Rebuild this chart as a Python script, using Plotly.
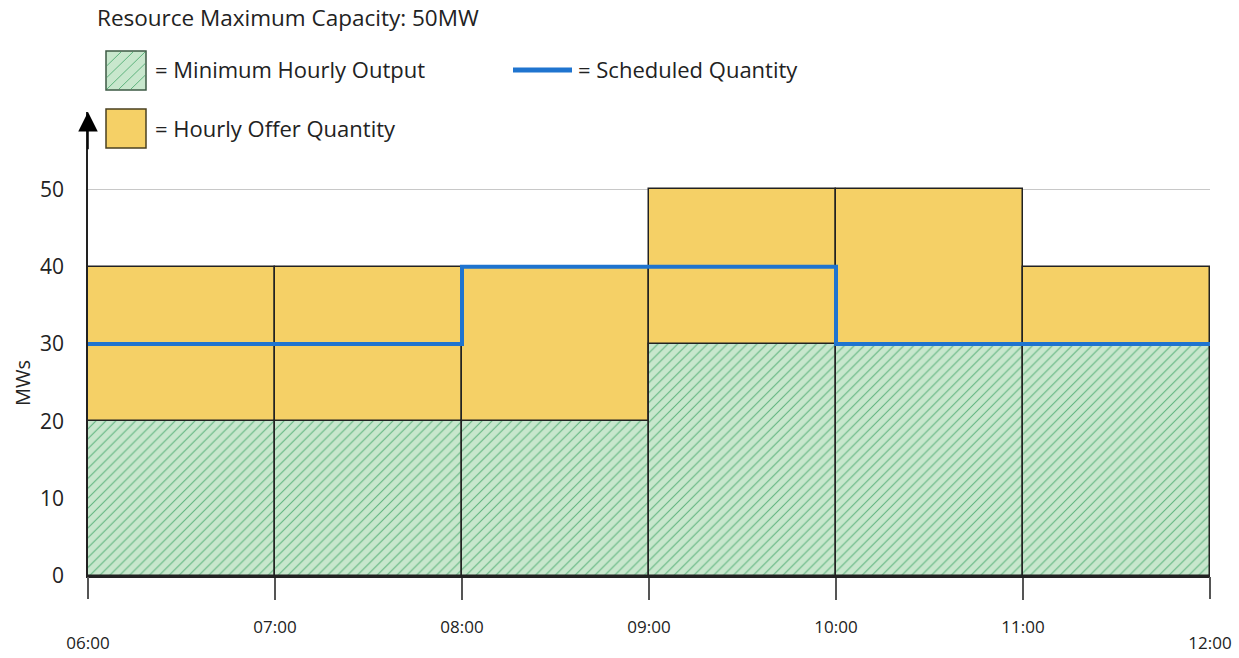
import plotly.graph_objects as go

# ---- data ----
hours = [6, 7, 8, 9, 10, 11]            # start hour of each interval
hour_labels = ["06:00", "07:00", "08:00", "09:00", "10:00", "11:00", "12:00"]
offer_qty = [40, 40, 40, 50, 50, 40]     # Hourly Offer Quantity (MW)
min_output = [20, 20, 20, 30, 30, 30]    # Minimum Hourly Output (MW)
scheduled = [30, 30, 40, 40, 30, 30]     # Scheduled Quantity (MW)
y_ticks = [0, 10, 20, 30, 40, 50]

W, H = 1239, 658
L, R, T, B = 88, 29, 112, 82
PW, PH = W - L - R, H - T - B

def px(x):
    return (x - L) / PW

def py(y):
    return (H - B - y) / PH

FONT = "Open Sans"
YELLOW = "#f5d066"
GREEN_BG = "#c8e7cd"
GREEN_FG = "#5fb47e"
BLUE = "#1f74cf"

centers = [h + 0.5 for h in hours]

fig = go.Figure()
fig.add_trace(go.Bar(
    x=centers, y=offer_qty, width=1, name="Hourly Offer Quantity",
    marker=dict(color=YELLOW, line=dict(color="#222222", width=1.5)),
    showlegend=False,
))
fig.add_trace(go.Bar(
    x=centers, y=min_output, width=1, name="Minimum Hourly Output",
    marker=dict(color=GREEN_BG, line=dict(color="#222222", width=1.5),
                pattern=dict(shape="/", bgcolor=GREEN_BG, fgcolor=GREEN_FG,
                             size=7, solidity=0.15, fillmode="replace")),
    showlegend=False,
))
step_x = hours + [hours[-1] + 1]
step_y = scheduled + [scheduled[-1]]
fig.add_trace(go.Scatter(
    x=step_x, y=step_y, mode="lines", line=dict(shape="hv", color=BLUE, width=4),
    name="Scheduled Quantity", showlegend=False,
))

tick_vals = hours + [hours[-1] + 1]
inner_vals = tick_vals[1:-1]
inner_text = hour_labels[1:-1]
outer_vals = [tick_vals[0], tick_vals[-1]]
outer_text = [hour_labels[0], hour_labels[-1]]

# invisible helper trace so the second (staggered-label) x axis is drawn
fig.add_trace(go.Scatter(
    x=outer_vals, y=[0, 0], xaxis="x2", yaxis="y", mode="markers",
    marker=dict(opacity=0, size=1), hoverinfo="skip", showlegend=False,
))

fig.update_layout(
    width=W, height=H,
    margin=dict(l=L, r=R, t=T, b=B, autoexpand=False),
    paper_bgcolor="white", plot_bgcolor="white",
    barmode="overlay", bargap=0,
    font=dict(family=FONT, color="#222222"),
    showlegend=False,
    xaxis=dict(range=[6, 12], tickvals=inner_vals, ticktext=inner_text,
               showline=True, linecolor="#222222", linewidth=2,
               ticks="outside", ticklen=22, tickcolor="#555555", tickwidth=1.5,
               showgrid=False, zeroline=False, ticklabelstandoff=13,
               automargin=False, fixedrange=True,
               tickfont=dict(size=17, color="#222222")),
    xaxis2=dict(range=[6, 12], overlaying="x", anchor="y", side="bottom",
                tickvals=outer_vals, ticktext=outer_text,
                showline=False, ticks="outside", ticklen=22, tickcolor="#555555",
                tickwidth=1.5, showgrid=False, zeroline=False,
                ticklabelstandoff=30, automargin=False, fixedrange=True,
                tickfont=dict(size=17, color="#222222")),
    yaxis=dict(range=[0, 60], tickvals=y_ticks, showline=True,
               linecolor="#222222", linewidth=1.5, ticks="",
               showgrid=True, gridcolor="#c8c8c8", gridwidth=1,
               zeroline=False, ticklabelstandoff=18,
               automargin=False, fixedrange=True,
               tickfont=dict(size=21, color="#222222")),
)

# y-axis arrow
fig.add_annotation(x=6, y=60, xref="x", yref="y", ax=6, ay=55, axref="x", ayref="y",
                   showarrow=True, arrowhead=2, arrowsize=2.6, arrowwidth=1.5,
                   arrowcolor="black", text="")
# y-axis title
fig.add_annotation(x=px(22), y=py(383), xref="paper", yref="paper", text="MWs",
                   showarrow=False, textangle=-90, xanchor="center", yanchor="middle",
                   font=dict(size=20, family=FONT))

# header & custom legend
fig.add_annotation(x=px(95), y=py(18), xref="paper", yref="paper",
                   text="Resource Maximum Capacity: 50MW", showarrow=False,
                   xanchor="left", yanchor="middle", font=dict(size=22.5, family=FONT))

shapes = []
# green square
shapes.append(dict(type="rect", xref="paper", yref="paper",
                   x0=px(106), x1=px(146), y0=py(90), y1=py(51),
                   fillcolor=GREEN_BG, line=dict(color="#3c5a44", width=1.5)))
for off in (-24, -12, 0, 12, 24):
    xa0, ya0 = 106 + off, 90
    xa1, ya1 = 146 + off, 51
    x0c, y0c, x1c, y1c = xa0, ya0, xa1, ya1
    if x0c < 106:
        d = 106 - x0c; x0c = 106; y0c = ya0 - d * (39 / 40)
    if x1c > 146:
        d = x1c - 146; x1c = 146; y1c = ya1 + d * (39 / 40)
    shapes.append(dict(type="line", xref="paper", yref="paper",
                       x0=px(x0c + 1), y0=py(y0c - 1), x1=px(x1c - 1), y1=py(y1c + 1),
                       line=dict(color=GREEN_FG, width=1)))
shapes.append(dict(type="rect", xref="paper", yref="paper",
                   x0=px(106), x1=px(146), y0=py(148), y1=py(109),
                   fillcolor=YELLOW, line=dict(color="#4a4020", width=1.5)))
shapes.append(dict(type="line", xref="paper", yref="paper",
                   x0=px(513), x1=px(572), y0=py(70), y1=py(70),
                   line=dict(color=BLUE, width=5)))
fig.update_layout(shapes=shapes)

for text, x, y in [("= Minimum Hourly Output", 153, 69),
                   ("= Hourly Offer Quantity", 153, 128),
                   ("= Scheduled Quantity", 576, 69)]:
    fig.add_annotation(x=px(x), y=py(y), xref="paper", yref="paper", text=text,
                       showarrow=False, xanchor="left", yanchor="middle",
                       font=dict(size=22, family=FONT))

fig.write_html("out.html", config={"displayModeBar": False},
               post_script="document.body.style.margin='0';"
                           "document.body.style.overflow='hidden';")
